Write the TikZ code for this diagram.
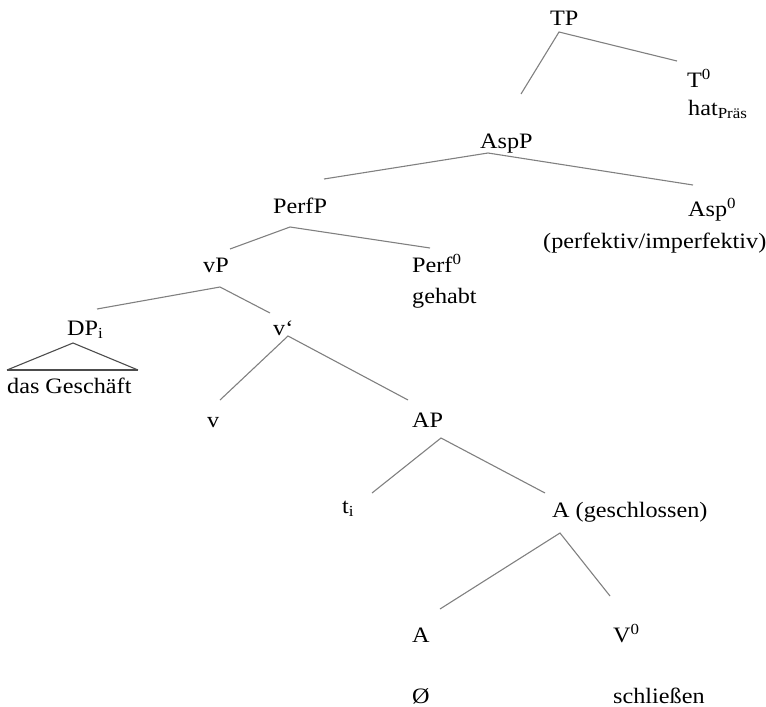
\documentclass[tikz,border=0pt]{standalone}
\usepackage{fontspec}
\setmainfont{Liberation Serif}[FakeStretch=1.1]
\begin{document}
\begin{tikzpicture}[x=1pt,y=-1pt,
  lbl/.style={anchor=base west,inner sep=0pt,font=\fontsize{22}{26}\selectfont},
  branch/.style={draw=black!50,line width=1.1pt},
  tri/.style={draw=black!70,line width=1.1pt},
  trib/.style={draw=black!70,line width=1.8pt}]
\useasboundingbox (0,0) rectangle (766,707);
% labels
\node[lbl] (TP) at (550,25) {TP};
\node[lbl] (T0) at (687,87) {T\textsuperscript{0}};
\node[lbl] (hat) at (688,115) {hat\textsubscript{Präs}};
\node[lbl] (AspP) at (480,148) {AspP};
\node[lbl] (PerfP) at (273,213) {PerfP};
\node[lbl] (Asp0) at (688,216) {Asp\textsuperscript{0}};
\node[lbl] (pi) at (543,248) {(perfektiv/imperfektiv)};
\node[lbl] (vP) at (203,272) {vP};
\node[lbl] (Perf0) at (412,272) {Perf\textsuperscript{0}};
\node[lbl] (gehabt) at (412,303) {gehabt};
\node[lbl] (DPi) at (67,335) {DP\textsubscript{i}};
\node[lbl] (vbar) at (273,335) {v‘};
\node[lbl] (dasG) at (7,393) {das Geschäft};
\node[lbl] (v) at (207,427) {v};
\node[lbl] (AP) at (412,427) {AP};
\node[lbl] (ti) at (342,513) {t\textsubscript{i}};
\node[lbl] (Ag) at (552,517) {A (geschlossen)};
\node[lbl] (A) at (412,642) {A};
\node[lbl] (V0) at (613,642) {V\textsuperscript{0}};
\node[lbl] (null) at (412,703) {Ø};
\node[lbl] (schl) at (613,703) {schließen};
% branch points
\coordinate (TPa) at (559,32);   \coordinate (TPl) at (521,94);  \coordinate (TPr) at (677,61);
\coordinate (AspPa) at (488,153); \coordinate (AspPl) at (324,179); \coordinate (AspPr) at (693,185);
\coordinate (PerfPa) at (290,227); \coordinate (PerfPl) at (230,249); \coordinate (PerfPr) at (430,248);
\coordinate (vPa) at (220,287); \coordinate (vPl) at (97,309); \coordinate (vPr) at (270,313);
\coordinate (vba) at (288,336); \coordinate (vbl) at (220,400); \coordinate (vbr) at (408,400);
\coordinate (APa) at (441,438); \coordinate (APl) at (372,493); \coordinate (APr) at (545,493);
\coordinate (Aga) at (560,533); \coordinate (Agl) at (440,609); \coordinate (Agr) at (610,596);
\coordinate (DPa) at (73,343); \coordinate (DPl) at (7,370); \coordinate (DPr) at (138,370);
% branches
\draw[branch] (TPl) -- (TPa) -- (TPr);
\draw[branch] (AspPl) -- (AspPa) -- (AspPr);
\draw[branch] (PerfPl) -- (PerfPa) -- (PerfPr);
\draw[branch] (vPl) -- (vPa) -- (vPr);
\draw[branch] (vbl) -- (vba) -- (vbr);
\draw[branch] (APl) -- (APa) -- (APr);
\draw[branch] (Agl) -- (Aga) -- (Agr);
\draw[tri] (DPl) -- (DPa) -- (DPr);
\draw[trib] (DPl) -- (DPr);
\end{tikzpicture}
\end{document}
